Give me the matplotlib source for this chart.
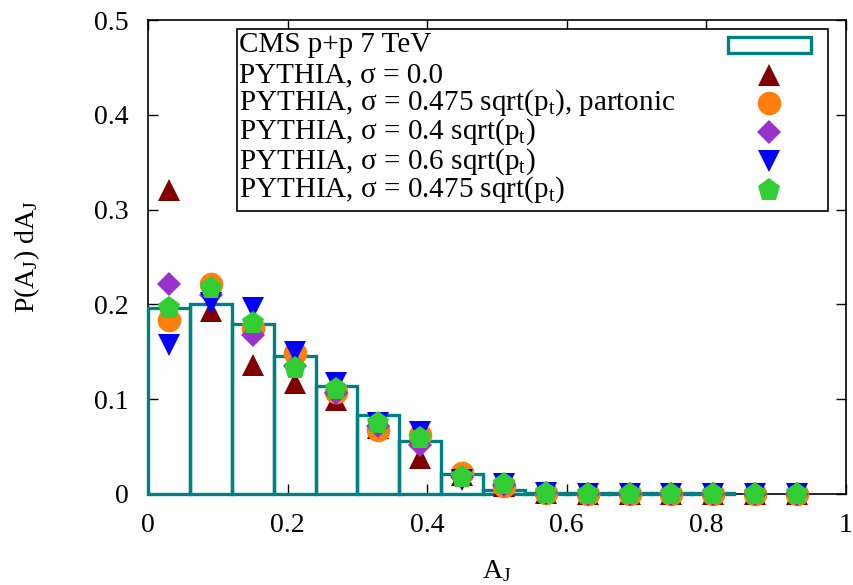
import numpy as np
import matplotlib
matplotlib.use('Agg')
import matplotlib.pyplot as plt
from matplotlib.patches import Rectangle

plt.rcParams['font.family'] = ['Liberation Serif', 'DejaVu Serif']
plt.rcParams['mathtext.fontset'] = 'custom'
plt.rcParams['mathtext.rm'] = 'Liberation Serif'
plt.rcParams['mathtext.it'] = 'Liberation Serif:italic'

# CMS histogram (bin left edges, width 0.06)
cms_edges = [0.00, 0.06, 0.12, 0.18, 0.24, 0.30, 0.36, 0.42, 0.48, 0.54, 0.60, 0.66, 0.72, 0.78]
cms_vals = [0.196, 0.200, 0.179, 0.146, 0.114, 0.083, 0.056, 0.021, 0.004, 0.0015, 0.0008, 0.0008, 0.0008, 0.0008]

# PYTHIA points at bin centres
aj = [0.03, 0.09, 0.15, 0.21, 0.27, 0.33, 0.39, 0.45, 0.51, 0.57, 0.63, 0.69, 0.75, 0.81, 0.87, 0.93]
sig0 = [0.321, 0.193, 0.136, 0.117, 0.099, 0.070, 0.038, 0.020, 0.008, 0.001, 0.0, 0.0, 0.0, 0.0, 0.0, 0.0]
partonic = [0.184, 0.221, 0.175, 0.149, 0.108, 0.067, 0.062, 0.022, 0.008, 0.001, 0.0, 0.0, 0.0, 0.0, 0.0, 0.0]
sig04 = [0.222, 0.210, 0.168, 0.135, 0.107, 0.072, 0.052, 0.018, 0.009, 0.001, 0.0, 0.0, 0.0, 0.0, 0.0, 0.0]
sig06 = [0.157, 0.201, 0.196, 0.150, 0.117, 0.075, 0.065, 0.015, 0.010, 0.001, 0.0, 0.0, 0.0, 0.0, 0.0, 0.0]
sig0475 = [0.196, 0.217, 0.180, 0.133, 0.111, 0.075, 0.059, 0.018, 0.010, 0.001, 0.0, 0.0, 0.0, 0.0, 0.0, 0.0]

labels = ['CMS p+p 7 TeV',
          'PYTHIA, σ = 0.0',
          r'PYTHIA, σ = 0.475 sqrt(p$_\mathrm{t}$), partonic',
          r'PYTHIA, σ = 0.4 sqrt(p$_\mathrm{t}$)',
          r'PYTHIA, σ = 0.6 sqrt(p$_\mathrm{t}$)',
          r'PYTHIA, σ = 0.475 sqrt(p$_\mathrm{t}$)']

teal = '#008080'
styles = [('^', '#800000', 16), ('o', '#ff7f0e', 17), ('D', '#9932cc', 12),
          ('v', '#0000ff', 16), ('p', '#32cd32', 17)]
series = [sig0, partonic, sig04, sig06, sig0475]

fig = plt.figure(figsize=(8.54, 5.85), dpi=100)
ax = fig.add_axes([0.1733, 0.1556, 0.8173, 0.8102])

ax.bar(cms_edges, cms_vals, width=0.06, align='edge', fill=False,
       edgecolor=teal, linewidth=2.4, zorder=3, clip_on=False)

for (m, c, s), ys in zip(styles, series):
    ax.plot(aj, ys, linestyle='none', marker=m, color=c, markersize=s,
            markeredgewidth=0, zorder=4, clip_on=False)

ax.set_xlim(0, 1)
ax.set_ylim(0, 0.5)
ax.set_xticks(np.arange(0, 1.01, 0.2))
ax.set_xticklabels(['0', '0.2', '0.4', '0.6', '0.8', '1'])
ax.set_yticks(np.arange(0, 0.51, 0.1))
ax.set_yticklabels(['0', '0.1', '0.2', '0.3', '0.4', '0.5'])
ax.tick_params(direction='in', length=7, width=1, top=True, right=True,
               labelsize=20)
ax.tick_params(axis='x', pad=14)
ax.tick_params(axis='y', pad=14)
for sp in ax.spines.values():
    sp.set_linewidth(1.2)

ax.set_xlabel(r'A$_\mathrm{J}$', fontsize=20)
ax.set_ylabel(r'P(A$_\mathrm{J}$) dA$_\mathrm{J}$', fontsize=20)
ax.xaxis.set_label_coords(0.5, -0.135)
ax.yaxis.set_label_coords(-0.152, 0.5)

# legend box drawn by hand (text left aligned, samples on the right)
box = Rectangle((0.1275, 0.597), 0.974 - 0.1275, 0.981 - 0.597, transform=ax.transAxes,
                facecolor='white', edgecolor='black', linewidth=1.2, zorder=5)
ax.add_patch(box)
row_y = [0.947, 0.884, 0.825, 0.764, 0.702, 0.642]
for lab, yy in zip(labels, row_y):
    ax.text(0.131, yy, lab, transform=ax.transAxes, fontsize=21,
            va='center', ha='left', zorder=6)
ax.add_patch(Rectangle((0.831, 0.930), 0.119, 0.034, transform=ax.transAxes,
                       fill=False, edgecolor=teal, linewidth=2.4, zorder=6))
for (m, c, s), yy in zip(styles, row_y[1:]):
    ax.plot([0.89], [yy], transform=ax.transAxes, linestyle='none', marker=m,
            color=c, markersize=s, markeredgewidth=0, zorder=6, clip_on=False)

fig.savefig('out.png', dpi=100)
